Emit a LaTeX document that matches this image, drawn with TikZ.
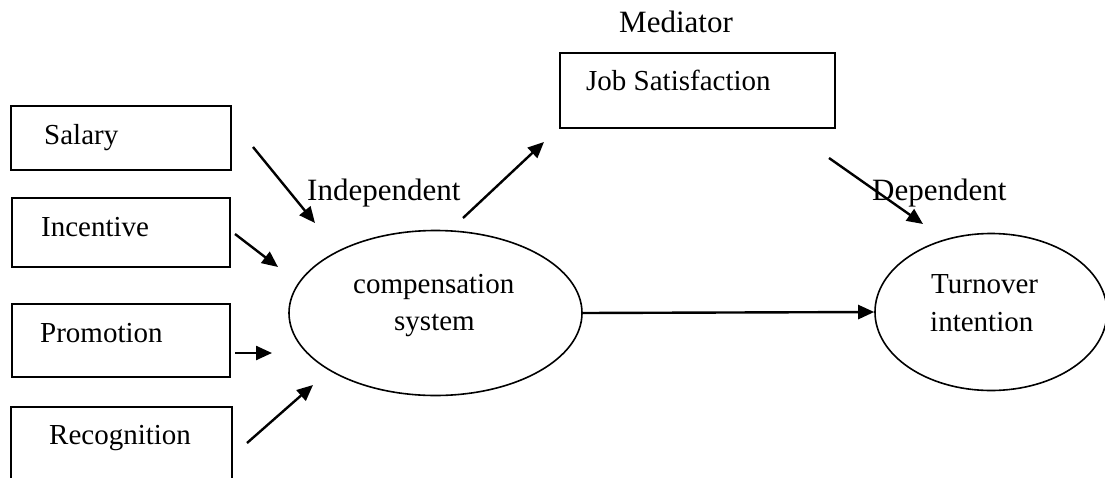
\documentclass[tikz,border=0pt]{standalone}
\usepackage{fontspec}
\setmainfont{Liberation Serif}
\usetikzlibrary{shapes.geometric,arrows.meta}
\tikzset{
  boxshape/.style={draw=black,line width=1.6pt,rectangle,inner sep=0pt},
  ellshape/.style={draw=black,line width=1.6pt,ellipse,inner sep=0pt},
  txt/.style={inner sep=0pt,anchor=base west,font=\fontsize{29}{34}\selectfont},
  lbl/.style={inner sep=0pt,anchor=base west,font=\fontsize{31}{36}\selectfont},
  arr/.style={line width=2.4pt,-{Triangle[length=16pt,width=14pt]}}
}
\begin{document}
\begin{tikzpicture}[x=1pt,y=-1pt]
\useasboundingbox (0,0) rectangle (1105,477);
\clip (0,0) rectangle (1105,477);
% boxes
\node[boxshape,minimum width=220pt,minimum height=64pt] (salary) at (121,138) {};
\node[boxshape,minimum width=218pt,minimum height=69pt] (incentive) at (121,232.5) {};
\node[boxshape,minimum width=218pt,minimum height=73pt] (promotion) at (121,340.5) {};
\node[boxshape,minimum width=221pt,minimum height=120pt] (recognition) at (121.5,467) {};
\node[boxshape,minimum width=275pt,minimum height=75pt] (jobsat) at (697.5,90.5) {};
% ellipses
\node[ellshape,minimum width=293pt,minimum height=165pt] (comp) at (435.5,313) {};
\node[ellshape,minimum width=232pt,minimum height=157pt] (turn) at (991,312) {};
% texts
\node[txt] (tsalary) at (44,144) {Salary};
\node[txt] (tincentive) at (41,236) {Incentive};
\node[txt] (tpromotion) at (40,342) {Promotion};
\node[txt] (trecog) at (49,444) {Recognition};
\node[txt] (tjob) at (586,90) {Job Satisfaction};
\node[txt] (tcomp1) at (353,293) {compensation};
\node[txt] (tcomp2) at (394,330) {system};
\node[txt] (tturn1) at (931,293) {Turnover};
\node[txt] (tturn2) at (930,331) {intention};
\node[lbl] (lmed) at (619,32) {Mediator};
\node[lbl] (lind) at (307,200) {Independent};
\node[lbl] (ldep) at (872,200) {Dependent};
% arrow end points
\coordinate (s1) at (253,147); \coordinate (s2) at (315,223);
\coordinate (i1) at (235,234); \coordinate (i2) at (278,267);
\coordinate (p1) at (235,353); \coordinate (p2) at (272,353);
\coordinate (r1) at (247,443); \coordinate (r2) at (313,385);
\coordinate (j1) at (463,218); \coordinate (j2) at (544,142);
\coordinate (d1) at (829,158); \coordinate (d2) at (923,224);
% arrows
\draw[arr] (s1) -- (s2);
\draw[arr] (i1) -- (i2);
\draw[arr] (p1) -- (p2);
\draw[arr] (r1) -- (r2);
\draw[arr] (j1) -- (j2);
\draw[arr] (d1) -- (d2);
\draw[arr] (comp.east) -- (turn.west);
\end{tikzpicture}
\end{document}
